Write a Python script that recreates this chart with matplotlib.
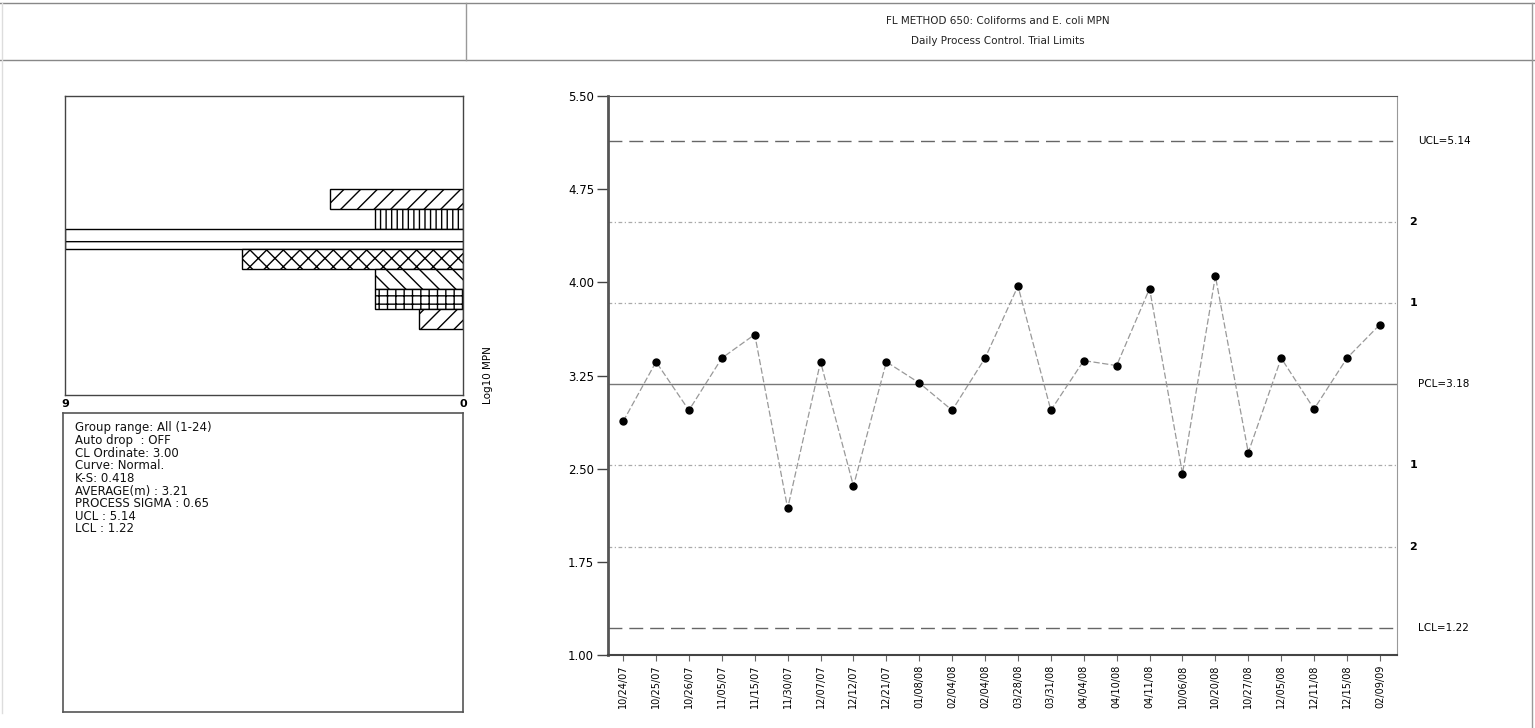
import numpy as np
import matplotlib
matplotlib.use("Agg")
from matplotlib import pyplot as plt
from matplotlib.lines import Line2D

# data
dates = ["10/24/07", "10/25/07", "10/26/07", "11/05/07", "11/15/07", "11/30/07",
         "12/07/07", "12/12/07", "12/21/07", "01/08/08", "02/04/08", "02/04/08",
         "03/28/08", "03/31/08", "04/04/08", "04/10/08", "04/11/08", "10/06/08",
         "10/20/08", "10/27/08", "12/05/08", "12/11/08", "12/15/08", "02/09/09"]
log_mpn = [2.88, 3.36, 2.97, 3.39, 3.58, 2.18, 3.36, 2.36, 3.36, 3.19, 2.97, 3.39,
           3.97, 2.97, 3.37, 3.33, 3.95, 2.46, 4.05, 2.63, 3.39, 2.98, 3.39, 3.66]

ucl = 5.14
pcl = 3.18
lcl = 1.22
zone_k = [2, 1, -1, -2]

# histogram counts, top bin to bottom bin
hist_counts = [3, 2, 9, 5, 2, 2, 1]
hist_hatches = ["//", "|||", "-", "xx", "\\\\", "++", "//"]

info_lines = ["Group range: All (1-24)", "Auto drop  : OFF", "CL Ordinate: 3.00",
              "Curve: Normal.", "K-S: 0.418", "AVERAGE(m) : 3.21",
              "PROCESS SIGMA : 0.65", "UCL : 5.14", "LCL : 1.22"]

y_ticks = [1.00, 1.75, 2.50, 3.25, 4.00, 4.75, 5.50]

plt.rcParams['font.family'] = ['DejaVu Sans']
plt.rcParams['hatch.linewidth'] = 1.0

W, H = 1535, 728
fig = plt.figure(figsize=(W / 100, H / 100), dpi=100)
fig.patch.set_facecolor('white')

def px(x0, y0, x1, y1):
    # pixel box -> figure fraction rect
    return [x0 / W, 1 - y1 / H, (x1 - x0) / W, (y1 - y0) / H]

# header frame
fig.add_artist(Line2D([0, 1], [1 - 3 / H, 1 - 3 / H], color='#888888', lw=1))
fig.add_artist(Line2D([0, 1], [1 - 60 / H, 1 - 60 / H], color='#888888', lw=1))
fig.add_artist(Line2D([466 / W, 466 / W], [1 - 60 / H, 1 - 3 / H], color='#999999', lw=1))
fig.add_artist(Line2D([1532 / W, 1532 / W], [0, 1 - 3 / H], color='#999999', lw=1))
fig.add_artist(Line2D([2 / W, 2 / W], [0.02, 1 - 3 / H], color='#dddddd', lw=1))

fig.text(998 / W, 1 - 21 / H, "FL METHOD 650: Coliforms and E. coli MPN",
         ha='center', va='center', fontsize=7.5, color='#222222')
fig.text(998 / W, 1 - 41 / H, "Daily Process Control. Trial Limits",
         ha='center', va='center', fontsize=7.5, color='#222222')

# histogram panel
axh = fig.add_axes(px(65, 96, 463, 395))
pos = 9.83 - np.arange(len(hist_counts))
for c, y, h in zip(hist_counts, pos, hist_hatches):
    axh.barh(y, c, height=1.0, left=0, facecolor='white', edgecolor='black',
             hatch=h, linewidth=1.0)
axh.set_xlim(9, 0)
axh.set_ylim(0, 15)
axh.set_xticks([9, 0])
axh.set_xticklabels(["9", "0"], fontsize=8, fontweight='bold')
axh.tick_params(axis='x', length=0, pad=3)
axh.set_yticks([])
for s in axh.spines.values():
    s.set_color('#444444')
    s.set_linewidth(1.0)

# info box
axi = fig.add_axes(px(63, 413, 463, 712))
axi.set_xticks([])
axi.set_yticks([])
for s in axi.spines.values():
    s.set_color('#555555')
    s.set_linewidth(1.2)
for i, line in enumerate(info_lines):
    axi.text(12 / 400, 1 - (15 + 12.6 * i) / 299, line, transform=axi.transAxes,
             ha='left', va='center', fontsize=8.5, color='#111111')

# control chart
ax = fig.add_axes(px(608, 96, 1397, 655))
x = np.arange(len(log_mpn))
sigma = (ucl - pcl) / 3

for k in zone_k:
    ax.axhline(pcl + k * sigma, color='#aaaaaa', lw=0.9, ls=(0, (3, 2, 1, 2)))
ax.axhline(ucl, color='#666666', lw=1.0, ls=(0, (10, 5)))
ax.axhline(lcl, color='#666666', lw=1.0, ls=(0, (10, 5)))
ax.axhline(pcl, color='#777777', lw=1.0)

ax.plot(x, log_mpn, color='#999999', lw=0.9, ls=(0, (5, 2)), marker='o',
        markersize=5, markerfacecolor='black', markeredgecolor='black')

ax.set_xlim(-0.46, 23.52)
ax.set_ylim(1.0, 5.5)
ax.set_yticks(y_ticks)
ax.set_yticklabels([f"{v:.2f}" for v in y_ticks], fontsize=8.5)
ax.set_xticks(x)
ax.set_xticklabels(dates, rotation=90, fontsize=7)
ax.tick_params(axis='y', length=8, width=1, color='#444444', pad=2)
ax.tick_params(axis='x', length=4, width=0.8, color='#666666', pad=3)
ax.set_ylabel("Log10 MPN", fontsize=7.5)
ax.yaxis.set_label_coords((493 - 608) / 789, 0.5)

ax.spines['left'].set_linewidth(2.0)
ax.spines['left'].set_color('#555555')
ax.spines['top'].set_color('#555555')
ax.spines['bottom'].set_linewidth(1.5)
ax.spines['bottom'].set_color('#444444')
ax.spines['right'].set_color('#999999')

lab_tr = ax.get_yaxis_transform()
ax.text(1.027, ucl, f"UCL={ucl:.2f}", transform=lab_tr, ha='left', va='center', fontsize=7.5)
ax.text(1.027, pcl, f"PCL={pcl:.2f}", transform=lab_tr, ha='left', va='center', fontsize=7.5)
ax.text(1.027, lcl, f"LCL={lcl:.2f}", transform=lab_tr, ha='left', va='center', fontsize=7.5)
for k in zone_k:
    ax.text(1.016, pcl + k * sigma, str(abs(k)), transform=lab_tr, ha='left',
            va='center', fontsize=8, fontweight='bold')

fig.savefig("out.png", dpi=100)
